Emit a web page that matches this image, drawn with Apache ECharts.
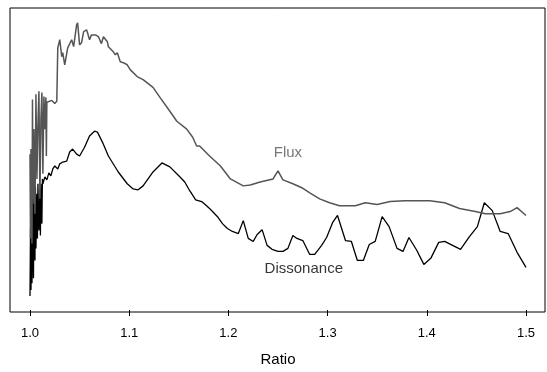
<!DOCTYPE html>
<html>
<head>
<meta charset="utf-8">
<script src="https://cdn.jsdelivr.net/npm/echarts@6/dist/echarts.min.js"></script>
<style>
  html, body { margin: 0; padding: 0; background: #fff; }
  #chart { width: 547px; height: 372px; }
</style>
</head>
<body>
<div id="chart"></div>
<script>
// x ticks
const ratioTicks = [1.0, 1.1, 1.2, 1.3, 1.4, 1.5]

// Flux curve (relative level, no y scale shown)
const fluxRatio = [1.000, 1.0005, 1.001, 1.002, 1.0025, 1.003, 1.004, 1.005, 1.006, 1.007,
  1.008, 1.009, 1.010, 1.011, 1.012, 1.013, 1.014, 1.015, 1.016, 1.0165,
  1.017, 1.022, 1.025, 1.027, 1.028, 1.029, 1.030, 1.032, 1.033, 1.035,
  1.038, 1.040, 1.042, 1.044, 1.047, 1.048, 1.050, 1.052, 1.054, 1.057,
  1.058, 1.060, 1.062, 1.066, 1.069, 1.072, 1.074, 1.078, 1.079, 1.081,
  1.084, 1.086, 1.088, 1.091, 1.094, 1.098, 1.101, 1.108, 1.114, 1.124,
  1.131, 1.141, 1.148, 1.158, 1.164, 1.168, 1.171, 1.181, 1.192, 1.202,
  1.215, 1.222, 1.232, 1.245, 1.250, 1.255, 1.265, 1.274, 1.282, 1.292,
  1.302, 1.312, 1.328, 1.338, 1.350, 1.363, 1.378, 1.403, 1.418, 1.433,
  1.449, 1.459, 1.474, 1.484, 1.491, 1.500]
const fluxValue = [0.516, 0.237, 0.533, 0.220, 0.697, 0.368, 0.599, 0.319, 0.714, 0.434,
  0.615, 0.724, 0.368, 0.632, 0.720, 0.451, 0.707, 0.599, 0.704, 0.510,
  0.688, 0.694, 0.684, 0.691, 0.868, 0.872, 0.895, 0.839, 0.852, 0.812,
  0.868, 0.872, 0.895, 0.872, 0.944, 0.951, 0.878, 0.885, 0.921, 0.928,
  0.918, 0.895, 0.911, 0.911, 0.905, 0.882, 0.905, 0.888, 0.872, 0.878,
  0.855, 0.845, 0.852, 0.822, 0.819, 0.812, 0.796, 0.773, 0.763, 0.737,
  0.704, 0.658, 0.625, 0.599, 0.572, 0.543, 0.543, 0.510, 0.477, 0.434,
  0.411, 0.414, 0.424, 0.434, 0.461, 0.431, 0.418, 0.405, 0.388, 0.368,
  0.355, 0.345, 0.345, 0.355, 0.349, 0.359, 0.362, 0.362, 0.355, 0.336,
  0.326, 0.319, 0.319, 0.326, 0.339, 0.313]

// Dissonance curve
const dissRatio = [1.000, 1.0005, 1.001, 1.0015, 1.002, 1.003, 1.0035, 1.004, 1.005, 1.0055,
  1.006, 1.007, 1.0075, 1.008, 1.009, 1.010, 1.0105, 1.011, 1.012, 1.0125,
  1.013, 1.015, 1.017, 1.019, 1.021, 1.023, 1.025, 1.028, 1.030, 1.033,
  1.037, 1.040, 1.043, 1.047, 1.050, 1.055, 1.060, 1.065, 1.068, 1.073,
  1.079, 1.089, 1.098, 1.104, 1.109, 1.114, 1.124, 1.133, 1.141, 1.151,
  1.156, 1.161, 1.167, 1.173, 1.178, 1.181, 1.184, 1.189, 1.194, 1.199,
  1.204, 1.210, 1.215, 1.220, 1.225, 1.229, 1.234, 1.239, 1.244, 1.250,
  1.255, 1.260, 1.265, 1.269, 1.275, 1.282, 1.287, 1.294, 1.299, 1.305,
  1.310, 1.318, 1.324, 1.330, 1.336, 1.342, 1.348, 1.355, 1.362, 1.370,
  1.376, 1.382, 1.390, 1.397, 1.404, 1.412, 1.418, 1.426, 1.434, 1.443,
  1.451, 1.458, 1.466, 1.474, 1.482, 1.491, 1.500]
const dissValue = [0.046, 0.270, 0.066, 0.401, 0.089, 0.411, 0.105, 0.352, 0.164, 0.408,
  0.204, 0.385, 0.237, 0.418, 0.263, 0.401, 0.247, 0.418, 0.286, 0.434,
  0.418, 0.441, 0.431, 0.454, 0.444, 0.467, 0.477, 0.467, 0.484, 0.490,
  0.493, 0.523, 0.533, 0.516, 0.510, 0.539, 0.576, 0.592, 0.589, 0.556,
  0.510, 0.457, 0.418, 0.401, 0.398, 0.411, 0.457, 0.487, 0.474, 0.441,
  0.424, 0.395, 0.365, 0.359, 0.345, 0.336, 0.326, 0.309, 0.286, 0.270,
  0.260, 0.253, 0.296, 0.237, 0.227, 0.250, 0.266, 0.214, 0.201, 0.194,
  0.194, 0.204, 0.247, 0.237, 0.230, 0.184, 0.184, 0.214, 0.240, 0.289,
  0.313, 0.230, 0.227, 0.164, 0.164, 0.217, 0.227, 0.309, 0.276, 0.204,
  0.194, 0.240, 0.197, 0.151, 0.171, 0.224, 0.227, 0.214, 0.201, 0.243,
  0.276, 0.355, 0.329, 0.260, 0.253, 0.191, 0.141]

// curve labels
const labelText = ['Flux', 'Dissonance']
const labelRatio = [1.260, 1.276]
const labelValue = [0.520, 0.135]
const labelColor = ['#555555', '#000000']

const zip = (xs, ys) => xs.map((x, i) => [x, ys[i]])

const chart = echarts.init(document.getElementById('chart'))

const fontFamily = '"Liberation Sans", Arial, sans-serif'

chart.setOption({
  animation: false,
  backgroundColor: '#fff',
  grid: [
    // data area: 1.0 .. 1.5
    { left: 30, right: 21, top: 8, bottom: 60, show: false },
    // plot box
    { left: 10, right: 2, top: 8, bottom: 60, show: true, borderColor: '#000', borderWidth: 1, backgroundColor: 'transparent' },
  ],
  xAxis: [
    {
      type: 'value',
      gridIndex: 0,
      min: ratioTicks[0],
      max: ratioTicks[ratioTicks.length - 1],
      interval: 0.1,
      name: 'Ratio',
      nameLocation: 'middle',
      nameGap: 42,
      nameTextStyle: { color: '#000', fontSize: 15, fontFamily },
      axisLine: { show: false },
      axisTick: { show: true, inside: false, length: 6, lineStyle: { color: '#000', width: 1 } },
      axisLabel: {
        margin: 17,
        color: '#000',
        fontSize: 13,
        fontFamily,
        formatter: v => v.toFixed(1),
      },
      splitLine: { show: false },
    },
    { type: 'value', gridIndex: 1, show: false },
  ],
  yAxis: [
    { type: 'value', gridIndex: 0, min: 0, max: 1, show: false, splitLine: { show: false } },
    { type: 'value', gridIndex: 1, show: false, splitLine: { show: false } },
  ],
  series: [
    {
      name: 'Dissonance',
      type: 'line',
      xAxisIndex: 0,
      yAxisIndex: 0,
      data: zip(dissRatio, dissValue),
      showSymbol: false,
      lineStyle: { color: '#000', width: 1.3 },
      z: 2,
    },
    {
      name: 'Flux',
      type: 'line',
      xAxisIndex: 0,
      yAxisIndex: 0,
      data: zip(fluxRatio, fluxValue),
      showSymbol: false,
      lineStyle: { color: '#555555', width: 1.5 },
      z: 3,
    },
    {
      name: 'labels',
      type: 'scatter',
      xAxisIndex: 0,
      yAxisIndex: 0,
      symbolSize: 0,
      data: labelText.map((t, i) => ({
        value: [labelRatio[i], labelValue[i]],
        label: {
          show: true,
          position: 'inside',
          formatter: t,
          color: labelColor[i],
          fontSize: 15,
          fontFamily,
        },
      })),
      z: 4,
    },
  ],
})
</script>
</body>
</html>
